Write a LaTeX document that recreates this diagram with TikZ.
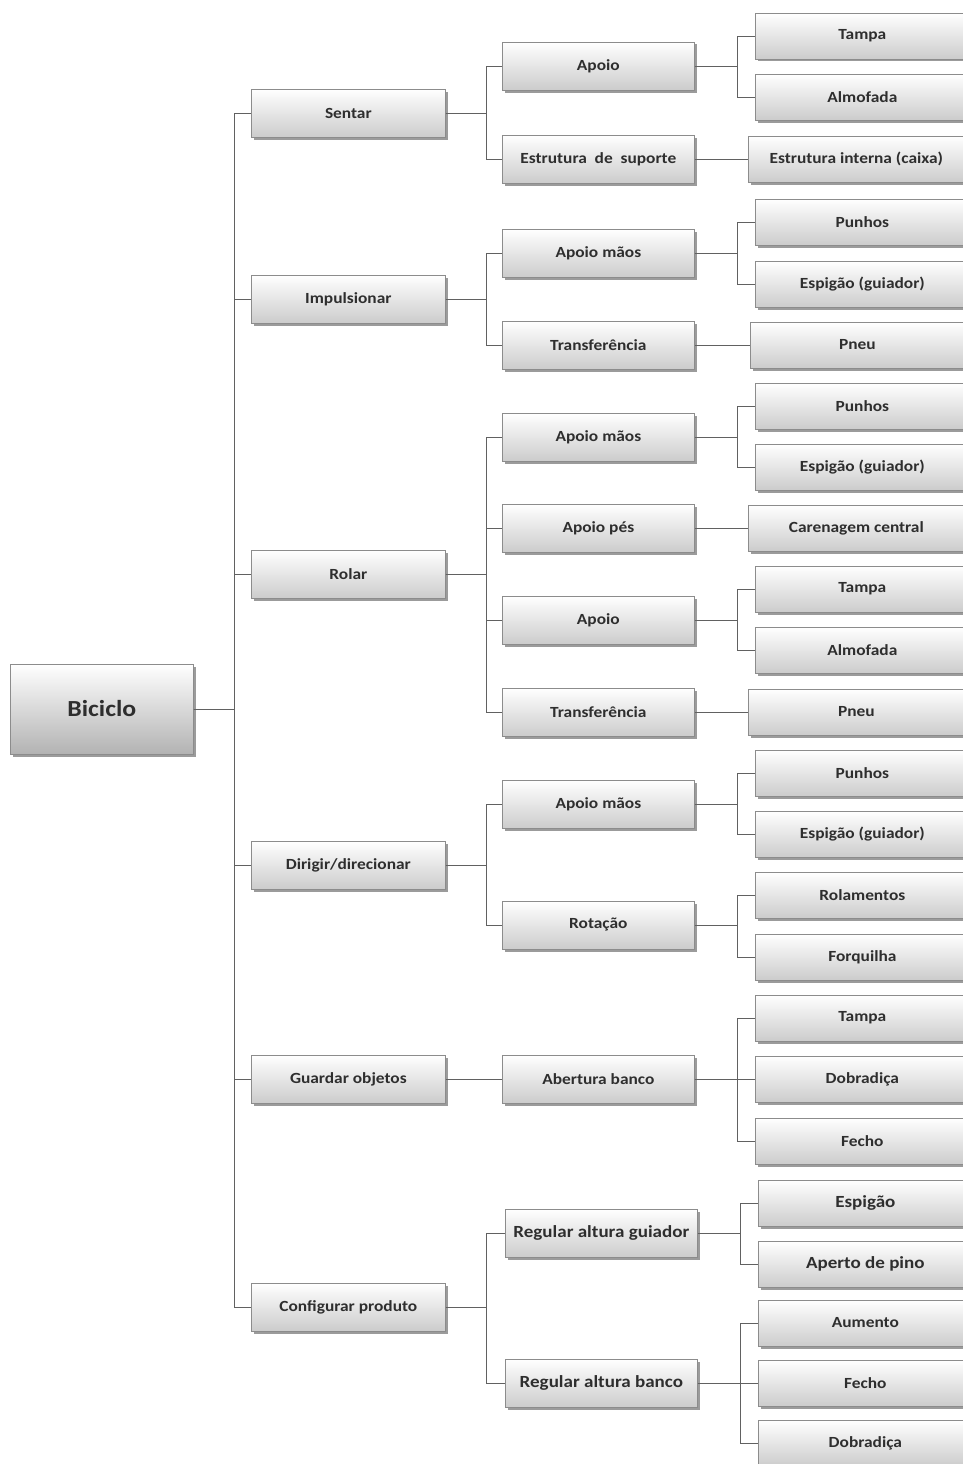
\documentclass[tikz,border=0pt]{standalone}
\usepackage{fontspec}
\setmainfont{Carlito}[FakeStretch=1.12]
\usetikzlibrary{shadows}
\begin{document}
\begin{tikzpicture}[x=1pt,y=-1pt,
  box/.style={draw=black!45, line width=0.7pt, top color=white, bottom color=black!20,
    drop shadow={shadow xshift=2.5pt, shadow yshift=-2.5pt, fill=black!65, opacity=0.6},
    inner sep=0pt, text=black!82, anchor=west, minimum height=48pt,
    font=\bfseries\fontsize{15.5}{18}\selectfont},
  root/.style={box, minimum width=183pt, minimum height=90pt, bottom color=black!30,
    font=\bfseries\fontsize{23}{26}\selectfont},
  lone/.style={box, minimum width=194pt},
  ltwo/.style={box, minimum width=192pt},
  lthree/.style={box, minimum height=46pt},
  big/.style={font=\bfseries\fontsize{17}{20}\selectfont},
  conn/.style={draw=black!62, line width=0.9pt}]
\path[use as bounding box, clip] (0,0) rectangle (963,1464);
\fill[white] (0,0) rectangle (963,1464);

% root and level 1
\node[root] (root) at (10,709) {Biciclo};
\node[lone] (s1) at (251,113) {Sentar};
\node[lone] (s2) at (251,299) {Impulsionar};
\node[lone] (s3) at (251,574) {Rolar};
\node[lone] (s4) at (251,865) {Dirigir/direcionar};
\node[lone] (s5) at (251,1079) {Guardar objetos};
\node[lone] (s6) at (251,1307) {Configurar produto};

% level 2
\node[ltwo] (a1) at (502,66) {Apoio};
\node[ltwo] (a2) at (502,159) {Estrutura\ \ de\ \ suporte};
\node[ltwo] (a3) at (502,253) {Apoio mãos};
\node[ltwo] (a4) at (502,345) {Transferência};
\node[ltwo] (a5) at (502,437) {Apoio mãos};
\node[ltwo] (a6) at (502,528) {Apoio pés};
\node[ltwo] (a7) at (502,620) {Apoio};
\node[ltwo] (a8) at (502,712) {Transferência};
\node[ltwo] (a9) at (502,804) {Apoio mãos};
\node[ltwo] (a10) at (502,925) {Rotação};
\node[ltwo] (a11) at (502,1079) {Abertura banco};
\node[ltwo,big] (a12) at (505,1233) {Regular altura guiador};
\node[ltwo,big] (a13) at (505,1383) {Regular altura banco};

% level 3
\node[lthree, minimum width=214pt] (c1) at (755,36) {Tampa};
\node[lthree, minimum width=214pt] (c2) at (755,97) {Almofada};
\node[lthree, minimum width=216pt] (c3) at (748,159) {Estrutura interna (caixa)};
\node[lthree, minimum width=214pt] (c4) at (755,222) {Punhos};
\node[lthree, minimum width=214pt] (c5) at (755,284) {Espigão (guiador)};
\node[lthree, minimum width=214pt] (c6) at (750,345) {Pneu};
\node[lthree, minimum width=214pt] (c7) at (755,406) {Punhos};
\node[lthree, minimum width=214pt] (c8) at (755,467) {Espigão (guiador)};
\node[lthree, minimum width=216pt] (c9) at (748,528) {Carenagem central};
\node[lthree, minimum width=214pt] (c10) at (755,589) {Tampa};
\node[lthree, minimum width=214pt] (c11) at (755,650) {Almofada};
\node[lthree, minimum width=216pt] (c12) at (748,712) {Pneu};
\node[lthree, minimum width=214pt] (c13) at (755,773) {Punhos};
\node[lthree, minimum width=214pt] (c14) at (755,834) {Espigão (guiador)};
\node[lthree, minimum width=214pt] (c15) at (755,895) {Rolamentos};
\node[lthree, minimum width=214pt] (c16) at (755,957) {Forquilha};
\node[lthree, minimum width=214pt] (c17) at (755,1018) {Tampa};
\node[lthree, minimum width=214pt] (c18) at (755,1079) {Dobradiça};
\node[lthree, minimum width=214pt] (c19) at (755,1141) {Fecho};
\node[lthree, big, minimum width=214pt] (c20) at (758,1203) {Espigão};
\node[lthree, big, minimum width=214pt] (c21) at (758,1264) {Aperto de pino};
\node[lthree, minimum width=214pt] (c22) at (758,1323) {Aumento};
\node[lthree, minimum width=214pt] (c23) at (758,1383) {Fecho};
\node[lthree, minimum width=214pt] (c24) at (758,1443) {Dobradiça};

% bus coordinates
\coordinate (t0) at (234,0);
\coordinate (t1) at (486,0);
\coordinate (t2) at (737,0);
\coordinate (t3) at (740,0);

% root to level 1
\foreach \s in {s1,s2,s3,s4,s5,s6}
  \draw[conn] (root.east) -- (root.east -| t0) |- (\s.west);
% level 1 to level 2
\foreach \p/\c in {s1/a1,s1/a2,s2/a3,s2/a4,s3/a5,s3/a6,s3/a7,s3/a8,s4/a9,s4/a10,s6/a12,s6/a13}
  \draw[conn] (\p.east) -- (\p.east -| t1) |- (\c.west);
\draw[conn] (s5.east) -- (a11.west);
% level 2 to level 3 (branched)
\foreach \p/\c in {a1/c1,a1/c2,a3/c4,a3/c5,a5/c7,a5/c8,a7/c10,a7/c11,a9/c13,a9/c14,a10/c15,a10/c16,a11/c17,a11/c18,a11/c19}
  \draw[conn] (\p.east) -- (\p.east -| t2) |- (\c.west);
\foreach \p/\c in {a12/c20,a12/c21,a13/c22,a13/c23,a13/c24}
  \draw[conn] (\p.east) -- (\p.east -| t3) |- (\c.west);
% level 2 to level 3 (single)
\draw[conn] (a2.east) -- (c3.west);
\draw[conn] (a4.east) -- (c6.west);
\draw[conn] (a6.east) -- (c9.west);
\draw[conn] (a8.east) -- (c12.west);
\end{tikzpicture}
\end{document}
